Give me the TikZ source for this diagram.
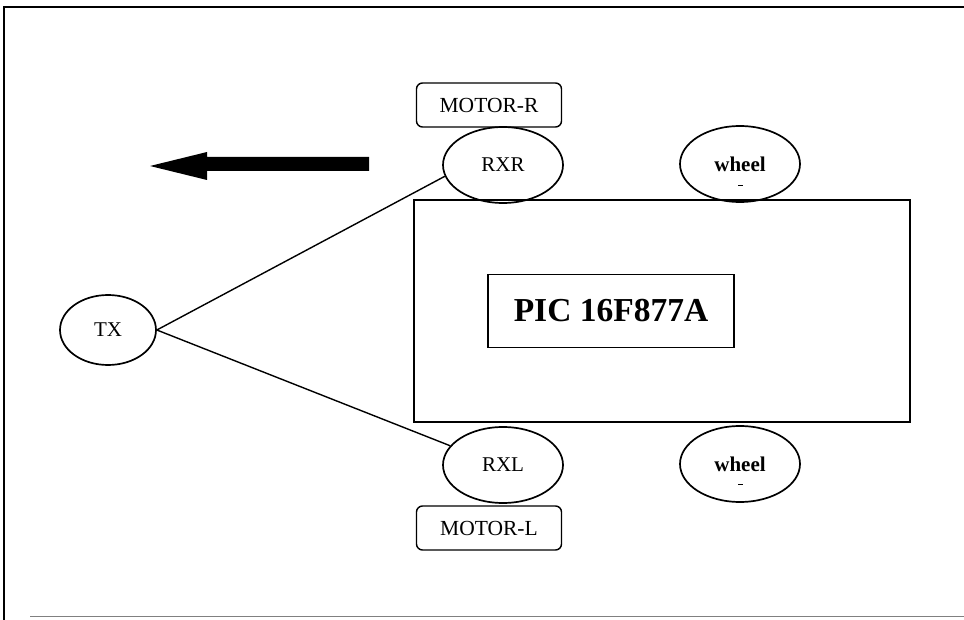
\documentclass[tikz,border=0pt]{standalone}
\usepackage{fontspec}
\setmainfont{Liberation Serif}
\usetikzlibrary{shapes.geometric}
\begin{document}
\begin{tikzpicture}[x=1pt,y=-1pt,
  oval/.style={draw,line width=1.7pt,ellipse,inner sep=0pt,minimum width=120pt,minimum height=76pt,font=\fontsize{21}{24}\selectfont},
  motorbox/.style={draw,line width=1.4pt,rounded corners=6pt,inner sep=0pt,minimum width=145pt,minimum height=44pt,font=\fontsize{21.5}{24}\selectfont},
  wheeltext/.style={font=\bfseries\fontsize{21}{24}\selectfont},
  conn/.style={line width=1.4pt}]
\useasboundingbox (0,0) rectangle (964,620);
% frame
\draw[line width=2.5pt] (4,620) -- (4,7) -- (964,7);
\draw[line width=0.8pt,gray] (30,616) -- (964,616);
% arrow
\fill (369,157) -- (207,157) -- (207,152) -- (150,166) -- (207,180) -- (207,171) -- (369,171) -- cycle;
% main board
\node[draw,line width=1.4pt,minimum width=496pt,minimum height=222pt,inner sep=0pt] (board) at (662,311) {};
\node[draw,line width=1.7pt,minimum width=246pt,minimum height=73pt,inner sep=0pt,font=\bfseries\fontsize{33.5}{36}\selectfont] (pic) at (611,311) {PIC 16F877A};
% motors
\node[motorbox] (motr) at (489,105) {MOTOR-R};
\node[motorbox] (motl) at (489,528) {MOTOR-L};
% ellipses
\node[oval] (rxr) at (503,165) {RXR};
\node[oval] (rxl) at (503,465) {RXL};
\node[oval,wheeltext] (wt) at (740,164) {wheel};
\node[oval,wheeltext] (wb) at (740,464) {wheel};
\draw[line width=1pt] ([xshift=-2pt,yshift=-22pt]wt.center) -- ([xshift=3pt,yshift=-22pt]wt.center);
\draw[line width=1pt] ([xshift=-2pt,yshift=-20pt]wb.center) -- ([xshift=3pt,yshift=-20pt]wb.center);
\node[oval,minimum width=96pt,minimum height=70pt] (tx) at (108,330) {TX};
% connectors
\draw[conn] (tx.east) -- (rxr.191);
\draw[conn] (tx.east) -- (rxl.160);
\end{tikzpicture}
\end{document}
